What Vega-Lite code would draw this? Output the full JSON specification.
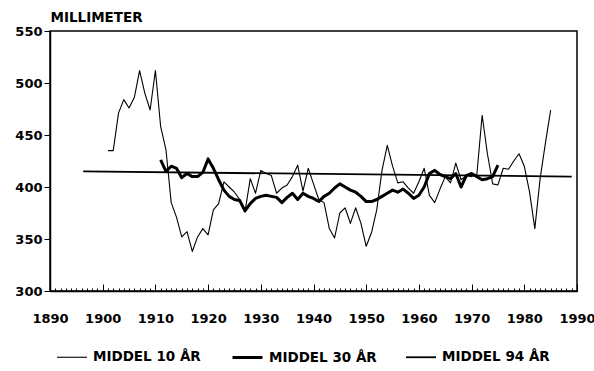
{
  "$schema": "https://vega.github.io/schema/vega-lite/v6.json",
  "width": 527,
  "height": 260,
  "autosize": {"type": "none"},
  "padding": {"left": 50, "top": 31, "right": 17, "bottom": 80},
  "background": "white",
  "config": {
    "font": "DejaVu Sans",
    "view": {"stroke": "black", "strokeWidth": 1.5},
    "axis": {
      "domainColor": "black",
      "domainWidth": 1.5,
      "tickColor": "black",
      "tickWidth": 1,
      "labelColor": "black",
      "labelFont": "DejaVu Sans",
      "labelFontWeight": "bold",
      "labelFontSize": 13,
      "grid": false
    }
  },
  "data": {
    "values": [
      {"series": "MIDDEL 94 ÅR", "year": 1896.3, "value": 415},
      {"series": "MIDDEL 94 ÅR", "year": 1989, "value": 410},
      {"series": "MIDDEL 10 ÅR", "year": 1901, "value": 435},
      {"series": "MIDDEL 10 ÅR", "year": 1902, "value": 435},
      {"series": "MIDDEL 10 ÅR", "year": 1903, "value": 471},
      {"series": "MIDDEL 10 ÅR", "year": 1904, "value": 484},
      {"series": "MIDDEL 10 ÅR", "year": 1905, "value": 476},
      {"series": "MIDDEL 10 ÅR", "year": 1906, "value": 486},
      {"series": "MIDDEL 10 ÅR", "year": 1907, "value": 512},
      {"series": "MIDDEL 10 ÅR", "year": 1908, "value": 490},
      {"series": "MIDDEL 10 ÅR", "year": 1909, "value": 474},
      {"series": "MIDDEL 10 ÅR", "year": 1910, "value": 512},
      {"series": "MIDDEL 10 ÅR", "year": 1911, "value": 458},
      {"series": "MIDDEL 10 ÅR", "year": 1912, "value": 436},
      {"series": "MIDDEL 10 ÅR", "year": 1913, "value": 385},
      {"series": "MIDDEL 10 ÅR", "year": 1914, "value": 371},
      {"series": "MIDDEL 10 ÅR", "year": 1915, "value": 352},
      {"series": "MIDDEL 10 ÅR", "year": 1916, "value": 357},
      {"series": "MIDDEL 10 ÅR", "year": 1917, "value": 338},
      {"series": "MIDDEL 10 ÅR", "year": 1918, "value": 352},
      {"series": "MIDDEL 10 ÅR", "year": 1919, "value": 360},
      {"series": "MIDDEL 10 ÅR", "year": 1920, "value": 354},
      {"series": "MIDDEL 10 ÅR", "year": 1921, "value": 378},
      {"series": "MIDDEL 10 ÅR", "year": 1922, "value": 384},
      {"series": "MIDDEL 10 ÅR", "year": 1923, "value": 405},
      {"series": "MIDDEL 10 ÅR", "year": 1924, "value": 400},
      {"series": "MIDDEL 10 ÅR", "year": 1925, "value": 395},
      {"series": "MIDDEL 10 ÅR", "year": 1926, "value": 388},
      {"series": "MIDDEL 10 ÅR", "year": 1927, "value": 376},
      {"series": "MIDDEL 10 ÅR", "year": 1928, "value": 408},
      {"series": "MIDDEL 10 ÅR", "year": 1929, "value": 394},
      {"series": "MIDDEL 10 ÅR", "year": 1930, "value": 416},
      {"series": "MIDDEL 10 ÅR", "year": 1931, "value": 413},
      {"series": "MIDDEL 10 ÅR", "year": 1932, "value": 411},
      {"series": "MIDDEL 10 ÅR", "year": 1933, "value": 394},
      {"series": "MIDDEL 10 ÅR", "year": 1934, "value": 399},
      {"series": "MIDDEL 10 ÅR", "year": 1935, "value": 402},
      {"series": "MIDDEL 10 ÅR", "year": 1936, "value": 410},
      {"series": "MIDDEL 10 ÅR", "year": 1937, "value": 421},
      {"series": "MIDDEL 10 ÅR", "year": 1938, "value": 396},
      {"series": "MIDDEL 10 ÅR", "year": 1939, "value": 418},
      {"series": "MIDDEL 10 ÅR", "year": 1940, "value": 403},
      {"series": "MIDDEL 10 ÅR", "year": 1941, "value": 388},
      {"series": "MIDDEL 10 ÅR", "year": 1942, "value": 385},
      {"series": "MIDDEL 10 ÅR", "year": 1943, "value": 360},
      {"series": "MIDDEL 10 ÅR", "year": 1944, "value": 351},
      {"series": "MIDDEL 10 ÅR", "year": 1945, "value": 375},
      {"series": "MIDDEL 10 ÅR", "year": 1946, "value": 380},
      {"series": "MIDDEL 10 ÅR", "year": 1947, "value": 365},
      {"series": "MIDDEL 10 ÅR", "year": 1948, "value": 380},
      {"series": "MIDDEL 10 ÅR", "year": 1949, "value": 365},
      {"series": "MIDDEL 10 ÅR", "year": 1950, "value": 343},
      {"series": "MIDDEL 10 ÅR", "year": 1951, "value": 356},
      {"series": "MIDDEL 10 ÅR", "year": 1952, "value": 378},
      {"series": "MIDDEL 10 ÅR", "year": 1953, "value": 416},
      {"series": "MIDDEL 10 ÅR", "year": 1954, "value": 440},
      {"series": "MIDDEL 10 ÅR", "year": 1955, "value": 420},
      {"series": "MIDDEL 10 ÅR", "year": 1956, "value": 404},
      {"series": "MIDDEL 10 ÅR", "year": 1957, "value": 405},
      {"series": "MIDDEL 10 ÅR", "year": 1958, "value": 399},
      {"series": "MIDDEL 10 ÅR", "year": 1959, "value": 394},
      {"series": "MIDDEL 10 ÅR", "year": 1960, "value": 405},
      {"series": "MIDDEL 10 ÅR", "year": 1961, "value": 418},
      {"series": "MIDDEL 10 ÅR", "year": 1962, "value": 392},
      {"series": "MIDDEL 10 ÅR", "year": 1963, "value": 385},
      {"series": "MIDDEL 10 ÅR", "year": 1964, "value": 398},
      {"series": "MIDDEL 10 ÅR", "year": 1965, "value": 410},
      {"series": "MIDDEL 10 ÅR", "year": 1966, "value": 404},
      {"series": "MIDDEL 10 ÅR", "year": 1967, "value": 423},
      {"series": "MIDDEL 10 ÅR", "year": 1968, "value": 407},
      {"series": "MIDDEL 10 ÅR", "year": 1969, "value": 411},
      {"series": "MIDDEL 10 ÅR", "year": 1970, "value": 410},
      {"series": "MIDDEL 10 ÅR", "year": 1971, "value": 412},
      {"series": "MIDDEL 10 ÅR", "year": 1972, "value": 469},
      {"series": "MIDDEL 10 ÅR", "year": 1973, "value": 432},
      {"series": "MIDDEL 10 ÅR", "year": 1974, "value": 403},
      {"series": "MIDDEL 10 ÅR", "year": 1975, "value": 402},
      {"series": "MIDDEL 10 ÅR", "year": 1976, "value": 418},
      {"series": "MIDDEL 10 ÅR", "year": 1977, "value": 417},
      {"series": "MIDDEL 10 ÅR", "year": 1978, "value": 425},
      {"series": "MIDDEL 10 ÅR", "year": 1979, "value": 432},
      {"series": "MIDDEL 10 ÅR", "year": 1980, "value": 420},
      {"series": "MIDDEL 10 ÅR", "year": 1981, "value": 395},
      {"series": "MIDDEL 10 ÅR", "year": 1982, "value": 360},
      {"series": "MIDDEL 10 ÅR", "year": 1983, "value": 408},
      {"series": "MIDDEL 10 ÅR", "year": 1984, "value": 442},
      {"series": "MIDDEL 10 ÅR", "year": 1985, "value": 474},
      {"series": "MIDDEL 30 ÅR", "year": 1911, "value": 426},
      {"series": "MIDDEL 30 ÅR", "year": 1912, "value": 415},
      {"series": "MIDDEL 30 ÅR", "year": 1913, "value": 420},
      {"series": "MIDDEL 30 ÅR", "year": 1914, "value": 418},
      {"series": "MIDDEL 30 ÅR", "year": 1915, "value": 409},
      {"series": "MIDDEL 30 ÅR", "year": 1916, "value": 413},
      {"series": "MIDDEL 30 ÅR", "year": 1917, "value": 410},
      {"series": "MIDDEL 30 ÅR", "year": 1918, "value": 410},
      {"series": "MIDDEL 30 ÅR", "year": 1919, "value": 414},
      {"series": "MIDDEL 30 ÅR", "year": 1920, "value": 427},
      {"series": "MIDDEL 30 ÅR", "year": 1921, "value": 418},
      {"series": "MIDDEL 30 ÅR", "year": 1922, "value": 407},
      {"series": "MIDDEL 30 ÅR", "year": 1923, "value": 397},
      {"series": "MIDDEL 30 ÅR", "year": 1924, "value": 391},
      {"series": "MIDDEL 30 ÅR", "year": 1925, "value": 388},
      {"series": "MIDDEL 30 ÅR", "year": 1926, "value": 387},
      {"series": "MIDDEL 30 ÅR", "year": 1927, "value": 377},
      {"series": "MIDDEL 30 ÅR", "year": 1928, "value": 384},
      {"series": "MIDDEL 30 ÅR", "year": 1929, "value": 389},
      {"series": "MIDDEL 30 ÅR", "year": 1930, "value": 391},
      {"series": "MIDDEL 30 ÅR", "year": 1931, "value": 392},
      {"series": "MIDDEL 30 ÅR", "year": 1932, "value": 391},
      {"series": "MIDDEL 30 ÅR", "year": 1933, "value": 390},
      {"series": "MIDDEL 30 ÅR", "year": 1934, "value": 385},
      {"series": "MIDDEL 30 ÅR", "year": 1935, "value": 390},
      {"series": "MIDDEL 30 ÅR", "year": 1936, "value": 394},
      {"series": "MIDDEL 30 ÅR", "year": 1937, "value": 388},
      {"series": "MIDDEL 30 ÅR", "year": 1938, "value": 394},
      {"series": "MIDDEL 30 ÅR", "year": 1939, "value": 391},
      {"series": "MIDDEL 30 ÅR", "year": 1940, "value": 389},
      {"series": "MIDDEL 30 ÅR", "year": 1941, "value": 386},
      {"series": "MIDDEL 30 ÅR", "year": 1942, "value": 391},
      {"series": "MIDDEL 30 ÅR", "year": 1943, "value": 394},
      {"series": "MIDDEL 30 ÅR", "year": 1944, "value": 399},
      {"series": "MIDDEL 30 ÅR", "year": 1945, "value": 403},
      {"series": "MIDDEL 30 ÅR", "year": 1946, "value": 400},
      {"series": "MIDDEL 30 ÅR", "year": 1947, "value": 397},
      {"series": "MIDDEL 30 ÅR", "year": 1948, "value": 395},
      {"series": "MIDDEL 30 ÅR", "year": 1949, "value": 391},
      {"series": "MIDDEL 30 ÅR", "year": 1950, "value": 386},
      {"series": "MIDDEL 30 ÅR", "year": 1951, "value": 386},
      {"series": "MIDDEL 30 ÅR", "year": 1952, "value": 388},
      {"series": "MIDDEL 30 ÅR", "year": 1953, "value": 391},
      {"series": "MIDDEL 30 ÅR", "year": 1954, "value": 394},
      {"series": "MIDDEL 30 ÅR", "year": 1955, "value": 397},
      {"series": "MIDDEL 30 ÅR", "year": 1956, "value": 395},
      {"series": "MIDDEL 30 ÅR", "year": 1957, "value": 398},
      {"series": "MIDDEL 30 ÅR", "year": 1958, "value": 394},
      {"series": "MIDDEL 30 ÅR", "year": 1959, "value": 389},
      {"series": "MIDDEL 30 ÅR", "year": 1960, "value": 392},
      {"series": "MIDDEL 30 ÅR", "year": 1961, "value": 400},
      {"series": "MIDDEL 30 ÅR", "year": 1962, "value": 413},
      {"series": "MIDDEL 30 ÅR", "year": 1963, "value": 416},
      {"series": "MIDDEL 30 ÅR", "year": 1964, "value": 412},
      {"series": "MIDDEL 30 ÅR", "year": 1965, "value": 410},
      {"series": "MIDDEL 30 ÅR", "year": 1966, "value": 408},
      {"series": "MIDDEL 30 ÅR", "year": 1967, "value": 413},
      {"series": "MIDDEL 30 ÅR", "year": 1968, "value": 400},
      {"series": "MIDDEL 30 ÅR", "year": 1969, "value": 411},
      {"series": "MIDDEL 30 ÅR", "year": 1970, "value": 413},
      {"series": "MIDDEL 30 ÅR", "year": 1971, "value": 410},
      {"series": "MIDDEL 30 ÅR", "year": 1972, "value": 407},
      {"series": "MIDDEL 30 ÅR", "year": 1973, "value": 408},
      {"series": "MIDDEL 30 ÅR", "year": 1974, "value": 410},
      {"series": "MIDDEL 30 ÅR", "year": 1975, "value": 421}
    ]
  },
  "encoding": {
    "y": {
      "field": "value",
      "type": "quantitative",
      "scale": {"domain": [300, 550], "nice": false, "zero": false},
      "axis": {
        "title": "MILLIMETER",
        "titleAngle": 0,
        "titleAlign": "left",
        "titleBaseline": "alphabetic",
        "titleX": 0,
        "titleY": -10,
        "titleFont": "DejaVu Sans",
        "titleFontSize": 13.5,
        "titleFontWeight": "bold",
        "titleColor": "black",
        "values": [300, 350, 400, 450, 500, 550],
        "tickSize": 6,
        "labelPadding": 2
      }
    }
  },
  "layer": [
    {
      "mark": {"type": "line", "color": "black", "opacity": 0},
      "encoding": {
        "x": {
          "field": "year",
          "type": "quantitative",
          "scale": {"domain": [1890, 1990], "nice": false, "zero": false},
          "axis": {
            "title": null,
            "orient": "bottom",
            "values": [1890,1891,1892,1893,1894,1895,1896,1897,1898,1899,1900,1901,1902,1903,1904,1905,1906,1907,1908,1909,1910,1911,1912,1913,1914,1915,1916,1917,1918,1919,1920,1921,1922,1923,1924,1925,1926,1927,1928,1929,1930,1931,1932,1933,1934,1935,1936,1937,1938,1939,1940,1941,1942,1943,1944,1945,1946,1947,1948,1949,1950,1951,1952,1953,1954,1955,1956,1957,1958,1959,1960,1961,1962,1963,1964,1965,1966,1967,1968,1969,1970,1971,1972,1973,1974,1975,1976,1977,1978,1979,1980,1981,1982,1983,1984,1985,1986,1987,1988,1989,1990],
            "labels": false,
            "domain": false,
            "tickSize": -3
          }
        },
        "detail": {"field": "series"}
      }
    },
    {
      "mark": {"type": "line", "color": "black", "strokeJoin": "round"},
      "encoding": {
        "x": {
          "field": "year",
          "type": "quantitative",
          "scale": {"domain": [1890, 1990], "nice": false, "zero": false},
          "axis": {
            "title": null,
            "orient": "bottom",
            "values": [1890, 1900, 1910, 1920, 1930, 1940, 1950, 1960, 1970, 1980, 1990],
            "format": "d",
            "tickSize": -7,
            "labelPadding": 28,
            "labelOverlap": false,
            "labelFlush": false
          }
        },
        "strokeWidth": {
          "field": "series",
          "type": "nominal",
          "scale": {
            "type": "ordinal",
            "domain": ["MIDDEL 10 ÅR", "MIDDEL 30 ÅR", "MIDDEL 94 ÅR"],
            "range": [1.1, 3, 1.8]
          },
          "legend": {
            "orient": "none",
            "legendX": 6,
            "legendY": 310,
            "direction": "horizontal",
            "title": null,
            "padding": 0,
            "symbolType": "stroke",
            "symbolSize": 900,
            "symbolStrokeColor": "black",
            "labelFont": "DejaVu Sans",
            "labelFontSize": 13.5,
            "labelFontWeight": "bold",
            "labelColor": "black",
            "labelOffset": 5,
            "columnPadding": 25,
            "labelLimit": 300
          }
        }
      }
    }
  ],
  "resolve": {"axis": {"x": "independent"}}
}
